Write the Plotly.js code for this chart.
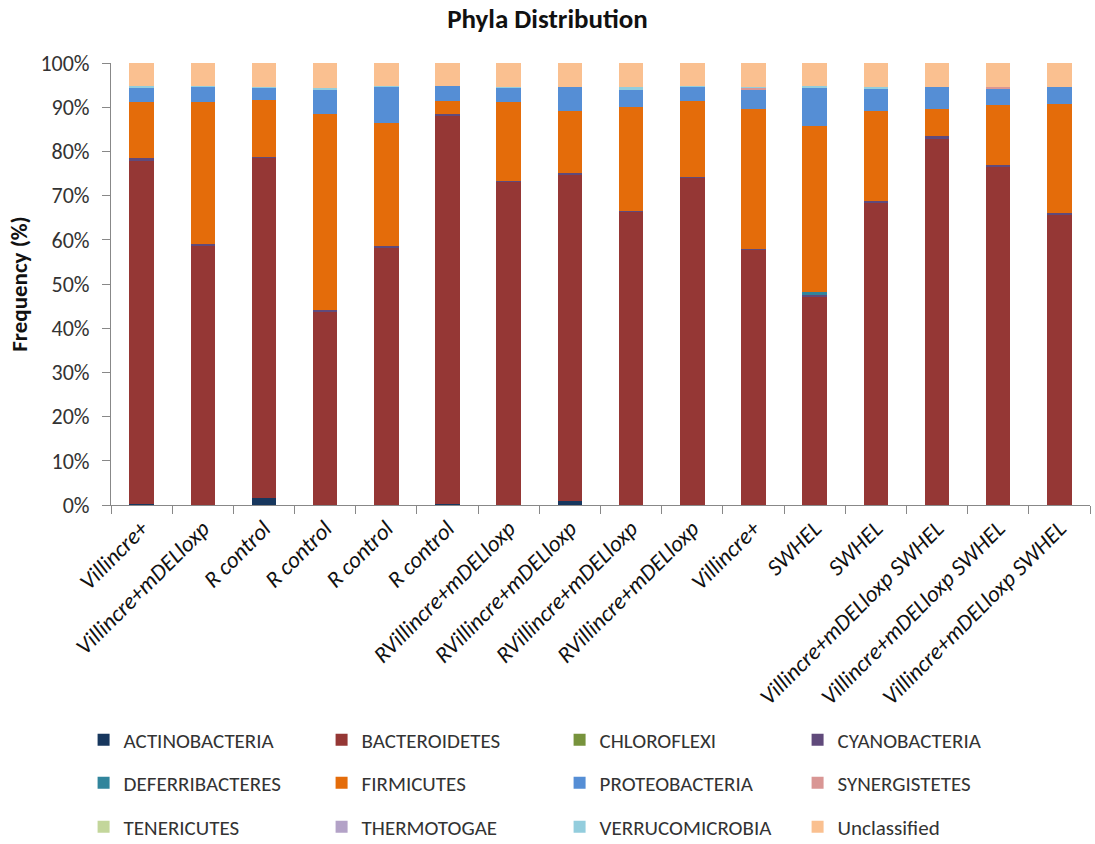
<!DOCTYPE html>
<html><head><meta charset="utf-8">
<script src="https://cdn.plot.ly/plotly-3.0.1.min.js"></script>
<style>html,body{margin:0;padding:0;background:#fff;}#chart{width:1095px;height:844px;}</style>
</head><body><div id="chart"></div>
<script>
const samples = ["Villincre+","Villincre+mDELloxp","R control","R control","R control","R control",
  "RVillincre+mDELloxp","RVillincre+mDELloxp","RVillincre+mDELloxp","RVillincre+mDELloxp",
  "Villincre+","SWHEL","SWHEL","Villincre+mDELloxp SWHEL","Villincre+mDELloxp SWHEL","Villincre+mDELloxp SWHEL"];
const actinobacteria   = [0.3,0.1,1.5,0.1,0.1,0.2,0.1,0.9,0.1,0.1,0.1,0.1,0.1,0.1,0.1,0.1];
const bacteroidetes    = [77.5,58.6,76.9,43.6,58.0,87.7,73.0,73.8,66.2,73.8,57.6,47.0,68.3,82.6,76.3,65.5];
const chloroflexi      = [0,0,0,0,0,0,0,0,0,0,0,0,0,0,0,0];
const cyanobacteria    = [0.6,0.4,0.4,0.4,0.4,0.6,0.3,0.4,0.3,0.4,0.3,0.4,0.3,0.8,0.6,0.4];
const deferribacteres  = [0,0,0,0.1,0,0,0,0,0,0,0,0.7,0,0,0,0];
const firmicutes       = [12.7,32.1,12.8,44.2,28.0,3.0,17.7,14.1,23.4,17.0,31.5,37.5,20.5,6.2,13.4,24.7];
const proteobacteria   = [3.2,3.4,2.7,5.6,8.1,3.3,3.2,5.3,3.8,3.3,4.3,8.7,4.9,4.9,3.8,3.9];
const synergistetes    = [0,0,0,0,0,0,0,0,0,0,0.5,0,0,0,0.3,0];
const tenericutes      = [0,0,0,0,0,0,0,0,0,0,0,0,0,0,0,0];
const thermotogae      = [0,0,0,0,0,0,0,0,0,0,0,0,0,0,0,0];
const verrucomicrobia  = [0.4,0.1,0.3,0.3,0.2,0,0.3,0,0.7,0.2,0.3,0.3,0.4,0,0,0];
const unclassified     = [5.3,5.3,5.4,5.6,5.5,5.2,5.4,5.5,5.6,5.5,5.6,5.2,5.6,5.5,5.6,5.5];
const yTicks = [0,10,20,30,40,50,60,70,80,90,100];

const seriesNames = ["ACTINOBACTERIA","BACTEROIDETES","CHLOROFLEXI","CYANOBACTERIA","DEFERRIBACTERES","FIRMICUTES",
  "PROTEOBACTERIA","SYNERGISTETES","TENERICUTES","THERMOTOGAE","VERRUCOMICROBIA","Unclassified"];
const seriesValues = [actinobacteria,bacteroidetes,chloroflexi,cyanobacteria,deferribacteres,firmicutes,
  proteobacteria,synergistetes,tenericutes,thermotogae,verrucomicrobia,unclassified];
const colors = ["#17375E","#953735","#77933C","#604A7B","#31859C","#E46C0A","#558ED5","#D99694","#C3D69B","#B3A2C7","#93CDDD","#FAC090"];

const FONT = "Carlito, Lato, 'Open Sans', sans-serif";
const TXT = '#333';
const xIdx = samples.map((s,i)=>i);
const legendIds = ["legend","legend2","legend3"];
const traces = seriesNames.map((n,i)=>({
  type:'bar', name:n, x:xIdx, y:seriesValues[i],
  marker:{color:colors[i], line:{width:0}},
  legend: legendIds[Math.floor(i/4)],
  hoverinfo:'name+y'
}));

function mkLegend(y){
  return {orientation:'h', x:-0.028, xanchor:'left', y:y, yanchor:'middle',
    entrywidth:193, entrywidthmode:'pixels', traceorder:'normal',
    font:{family:FONT, size:21, color:TXT}, bgcolor:'rgba(0,0,0,0)'};
}

const layout = {
  width:1095, height:844,
  margin:{l:111, r:5, t:63, b:339, autoexpand:false},
  paper_bgcolor:'#fff', plot_bgcolor:'#fff',
  barmode:'stack', bargap:0.6,
  font:{family:FONT, color:TXT},
  title:{text:'<b>Phyla Distribution</b>', x:0.5, xref:'container', xanchor:'center', y:1-19/844, yref:'container', yanchor:'middle',
    font:{family:FONT, size:27, color:'#111'}},
  xaxis:{range:[-0.5,15.5], tickmode:'array', tickvals:xIdx, ticktext:samples, tickangle:-45,
    ticks:'', showgrid:false, zeroline:false, showline:true, linecolor:'#888', linewidth:1, automargin:false,
    tickfont:{family:FONT, size:23, color:'#111', style:'italic'},
    minor:{tick0:-0.5, dtick:1, ticks:'outside', ticklen:8, tickcolor:'#888', showgrid:false}},
  yaxis:{range:[0,100], tickmode:'array', tickvals:yTicks, ticktext:yTicks.map(v=>v+'%'),
    ticks:'outside', ticklen:8, tickcolor:'#888', showgrid:false, zeroline:false, automargin:false,
    showline:true, linecolor:'#888', linewidth:1, ticklabelstandoff:8,
    tickfont:{family:FONT, size:22, color:TXT},
    title:{text:'<b>Frequency (%)</b>', font:{family:FONT, size:23, color:'#111'}, standoff:6}},
  legend: mkLegend((505-740)/442),
  legend2: mkLegend((505-783)/442),
  legend3: mkLegend((505-827)/442),
  showlegend:true
};
Plotly.newPlot('chart', traces, layout, {displayModeBar:false, staticPlot:true});
</script></body></html>
